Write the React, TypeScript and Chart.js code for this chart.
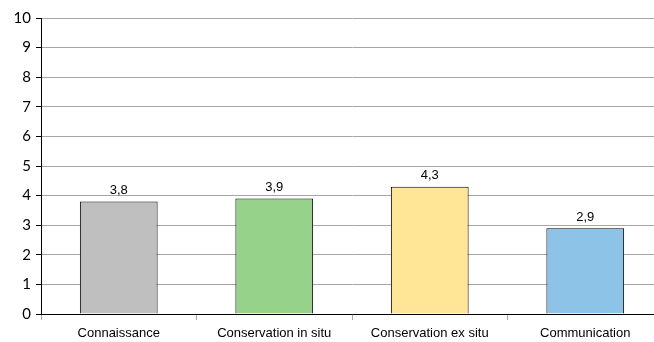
import React, { useEffect, useRef } from "react";
import { Chart, registerables } from "chart.js";

Chart.register(...registerables);

const categories = ["Connaissance", "Conservation in situ", "Conservation ex situ", "Communication"];
const scores = [3.8, 3.9, 4.3, 2.9];
const barColors = ["#BFBFBF", "#97D28A", "#FFE596", "#8DC3E7"];
const yTicks = [0, 1, 2, 3, 4, 5, 6, 7, 8, 9, 10];

// Writes each bar's score (decimal comma) just above the bar
const valueLabels = {
  id: "valueLabels",
  afterDatasetsDraw(chart: any) {
    const ctx = chart.ctx;
    const meta = chart.getDatasetMeta(0);
    ctx.save();
    ctx.font = "13px 'Liberation Sans', Arial, sans-serif";
    ctx.fillStyle = "#000";
    ctx.textAlign = "center";
    ctx.textBaseline = "middle";
    meta.data.forEach((bar: any, i: number) => {
      const txt = String(scores[i]).replace(".", ",");
      ctx.fillText(txt, bar.x, bar.y - 11);
    });
    ctx.restore();
  },
};

export default function App() {
  const ref = useRef<HTMLCanvasElement>(null);

  useEffect(() => {
    document.body.style.margin = "0";
    document.body.style.overflow = "hidden";
    const chart = new Chart(ref.current!, {
      type: "bar",
      data: {
        labels: categories,
        datasets: [
          {
            data: scores,
            backgroundColor: barColors,
            borderColor: "#000",
            borderWidth: 1,
            barPercentage: 0.5,
            categoryPercentage: 1,
          },
        ],
      },
      options: {
        responsive: false,
        animation: false,
        layout: { padding: { top: 18, left: 0, right: 0, bottom: 0 } },
        plugins: { legend: { display: false }, tooltip: { enabled: false } },
        scales: {
          x: {
            afterFit(scale: any) {
              scale.height = 28;
            },
            grid: {
              drawOnChartArea: false,
              drawTicks: true,
              tickLength: 6,
              tickColor: "#A6A6A6",
              offset: true,
            },
            border: { color: "#000", width: 1 },
            ticks: {
              color: "#000",
              font: { family: "'Liberation Sans', Arial, sans-serif", size: 13 },
              padding: 6,
              maxRotation: 0,
            },
          },
          y: {
            min: 0,
            max: 10,
            afterFit(scale: any) {
              scale.width = 41;
            },
            afterBuildTicks(scale: any) {
              scale.ticks = yTicks.map((v) => ({ value: v }));
            },
            grid: {
              color: "#A6A6A6",
              lineWidth: 1,
              tickLength: 5,
              tickColor: "#000",
            },
            border: { color: "#000", width: 1 },
            ticks: {
              color: "#000",
              font: { family: "Lato, 'Open Sans', sans-serif", size: 15 },
              padding: 5,
            },
          },
        },
      },
      plugins: [valueLabels],
    });
    return () => chart.destroy();
  }, []);

  return (
    <div style={{ width: 663, height: 342 }}>
      <canvas ref={ref} width={663} height={342} />
    </div>
  );
}
